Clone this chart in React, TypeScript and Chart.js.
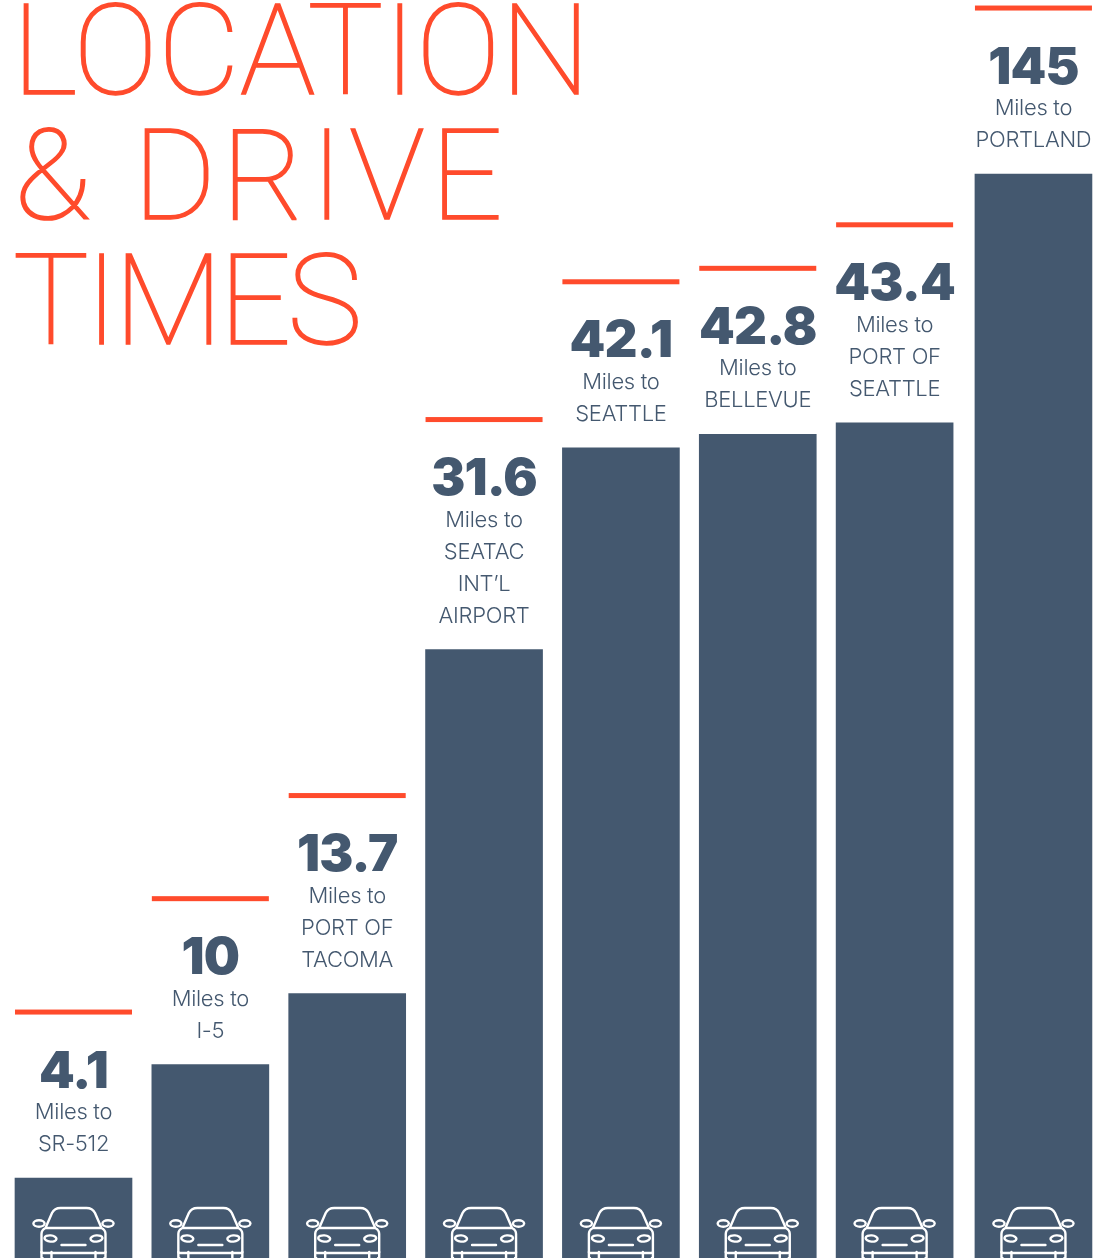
import React, { useEffect, useRef } from "react";
import { Chart, registerables, LinearScale } from "chart.js";

const titleLines = ["LOCATION", "& DRIVE", "TIMES"];
const miles = [4.1, 10, 13.7, 31.6, 42.1, 42.8, 43.4, 145];
const destinations = [
  ["SR-512"],
  ["I-5"],
  ["PORT OF", "TACOMA"],
  ["SEATAC", "INT’L", "AIRPORT"],
  ["SEATTLE"],
  ["BELLEVUE"],
  ["PORT OF", "SEATTLE"],
  ["PORTLAND"],
];
const milesPrefix = "Miles to";

const NAVY = "#44586f";
const TEXT = "#44586f";
const RED = "#ff4b2c";
const BAR_WIDTH = 117;

// The reference truncates its tallest bar: values above the break are compressed.
const BREAK_AT = 43.4;
const COMPRESS = 0.1274;
const LAST_GAP = 0.0145;

class BrokenLinearScale extends LinearScale {
  static id = "brokenLinear";
  static defaults = LinearScale.defaults;
  getPixelForValue(value: number) {
    const v = value <= BREAK_AT ? value : BREAK_AT + (value - BREAK_AT) * COMPRESS;
    return super.getPixelForValue(v);
  }
}

Chart.register(...registerables, BrokenLinearScale);

function drawCar(ctx: CanvasRenderingContext2D, cx: number) {
  ctx.save();
  ctx.translate(cx, 0);
  ctx.strokeStyle = "#ffffff";
  ctx.lineWidth = 2.4;
  ctx.lineJoin = "round";
  ctx.lineCap = "round";
  const side = (s: number) => {
    ctx.beginPath();
    ctx.ellipse(s * 34.5, 1223.5, 5.6, 3.2, 0, 0, Math.PI * 2);
    ctx.stroke();
    ctx.beginPath();
    ctx.ellipse(s * 23, 1238.5, 6, 3.1, s * -0.08, 0, Math.PI * 2);
    ctx.stroke();
    ctx.beginPath();
    ctx.moveTo(s * 32, 1252);
    ctx.lineTo(s * 32, 1257);
    ctx.quadraticCurveTo(s * 32, 1258, s * 31, 1258);
    ctx.moveTo(s * 22, 1252);
    ctx.lineTo(s * 22, 1258);
    ctx.stroke();
  };
  side(-1);
  side(1);
  ctx.beginPath();
  ctx.moveTo(-32, 1252);
  ctx.lineTo(-32, 1234);
  ctx.quadraticCurveTo(-32, 1230, -28, 1228);
  ctx.lineTo(-21.5, 1213);
  ctx.quadraticCurveTo(-19, 1208, -13, 1208);
  ctx.lineTo(13, 1208);
  ctx.quadraticCurveTo(19, 1208, 21.5, 1213);
  ctx.lineTo(28, 1228);
  ctx.quadraticCurveTo(32, 1230, 32, 1234);
  ctx.lineTo(32, 1252);
  ctx.quadraticCurveTo(32, 1253, 30, 1253);
  ctx.lineTo(-30, 1253);
  ctx.quadraticCurveTo(-32, 1253, -32, 1252);
  ctx.moveTo(-28, 1228);
  ctx.lineTo(28, 1228);
  ctx.moveTo(-12, 1245);
  ctx.lineTo(12, 1245);
  ctx.stroke();
  ctx.restore();
}

const annotations = {
  id: "annotations",
  afterDatasetsDraw(chart: any) {
    const ctx: CanvasRenderingContext2D = chart.ctx;
    const bars = chart.getDatasetMeta(0).data;
    ctx.save();
    ctx.textBaseline = "alphabetic";

    // title
    ctx.fillStyle = RED;
    ctx.strokeStyle = RED;
    ctx.lineWidth = 1.5;
    ctx.textAlign = "left";
    ctx.font = "100 127px Roboto";
    const starts = [12, 14, 13];
    const spacing = ["-0.2px", "5.6px", "-4px"];
    titleLines.forEach((line, i) => {
      (ctx as any).letterSpacing = spacing[i];
      ctx.fillText(line, starts[i], 93.5 + i * 125);
      ctx.strokeText(line, starts[i], 93.5 + i * 125);
    });
    (ctx as any).letterSpacing = "0px";

    ctx.textAlign = "center";
    miles.forEach((value, i) => {
      const bar = bars[i];
      const lines = [milesPrefix, ...destinations[i]];
      const capY = bar.y - 166 - 32 * (lines.length - 2);
      ctx.fillStyle = RED;
      ctx.fillRect(bar.x - BAR_WIDTH / 2, capY - 2.5, BAR_WIDTH, 5);
      ctx.fillStyle = TEXT;
      (ctx as any).letterSpacing = "-0.8px";
      ctx.font = "900 51px Inter";
      ctx.fillText(String(value), bar.x, capY + 75.5);
      ctx.font = "300 22px Inter";
      (ctx as any).letterSpacing = "-0.3px";
      lines.forEach((line, k) => ctx.fillText(line, bar.x, capY + 107 + k * 32));
      (ctx as any).letterSpacing = "0px";
      drawCar(ctx, bar.x);
    });
    ctx.restore();
  },
};

export default function App() {
  const ref = useRef<HTMLCanvasElement>(null);
  useEffect(() => {
    const yMin = -0.06;
    const chart = new Chart(ref.current!, {
      type: "bar",
      data: {
        datasets: [
          {
            label: "Miles",
            data: miles.map((y, i) => ({ x: i + (i === miles.length - 1 ? LAST_GAP : 0), y })),
            backgroundColor: NAVY,
            borderWidth: 0,
            barThickness: BAR_WIDTH,
            base: yMin,
          },
        ],
      },
      options: {
        animation: false,
        responsive: false,
        layout: { padding: 0 },
        plugins: { legend: { display: false }, tooltip: { enabled: false }, title: { display: false } },
        scales: {
          x: { type: "linear", display: false, offset: false, min: -0.537, max: 7.53, grid: { display: false, offset: false } },
          y: { type: "brokenLinear", display: false, min: yMin, max: 65.4, grid: { display: false } },
        },
      } as any,
      plugins: [annotations],
    });
    return () => chart.destroy();
  }, []);
  return (
    <div style={{ position: "absolute", left: 0, top: 0, width: 1104, height: 1258, background: "#fff" }}>
      <canvas ref={ref} width={1104} height={1258} style={{ display: "block" }} />
    </div>
  );
}
